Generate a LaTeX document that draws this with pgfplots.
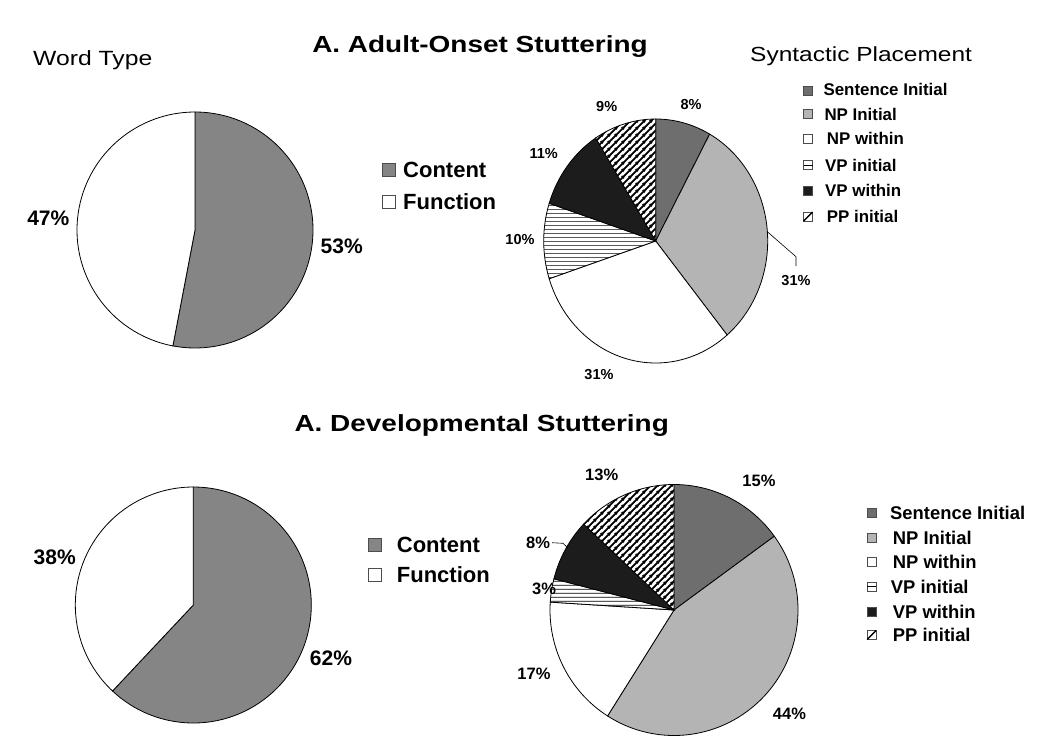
\documentclass[border=0pt]{standalone}
\usepackage{fontspec}
\setmainfont{Liberation Sans}
\newfontfamily\widefont{Liberation Sans}[FakeStretch=1.2]
\usepackage{pgfplots}
\pgfplotsset{compat=1.18}
\usetikzlibrary{patterns.meta}

\definecolor{contentgray}{HTML}{858585}
\definecolor{sentgray}{HTML}{6E6E6E}
\definecolor{npgray}{HTML}{B4B4B4}
\definecolor{vpblack}{HTML}{1C1C1C}

\tikzdeclarepattern{name=diagstripe, type=uncolored,
  bounding box={(0pt,0pt) and (7pt,7pt)}, tile size={(7pt,7pt)},
  code={\draw[line width=2pt] (-1pt,-1pt) -- (8pt,8pt) (-1pt,6pt) -- (1pt,8pt) (6pt,-1pt) -- (8pt,1pt);}}
\tikzdeclarepattern{name=hstripe, type=uncolored,
  bounding box={(0pt,0pt) and (4pt,4pt)}, tile size={(4pt,4pt)},
  code={\draw[line width=0.9pt] (-1pt,2pt) -- (5pt,2pt);}}

% #1 cx, #2 cy, #3 rx, #4 ry, #5 start %, #6 end %, #7 style
\newcommand{\pieslice}[7]{%
  \path[#7] (axis cs:#1,#2) -- ++({#3*cos(90-3.6*#5)*1pt},{#4*sin(90-3.6*#5)*1pt})
    arc[start angle={90-3.6*#5}, end angle={90-3.6*#6}, x radius=#3pt, y radius=#4pt] -- cycle;}

\tikzset{
  slice/.style={draw=black, line width=0.8pt},
  % text whose cap-height middle sits at the given point
  T/.style={inner sep=0pt, anchor=base, font=\fontsize{#1}{#1}\selectfont, yshift={-0.358*#1*1pt}},
  TL/.style={inner sep=0pt, anchor=base west, font=\fontsize{#1}{#1}\selectfont, yshift={-0.358*#1*1pt}},
  B/.style={T=#1, font=\bfseries\fontsize{#1}{#1}\selectfont},
  BL/.style={TL=#1, font=\bfseries\fontsize{#1}{#1}\selectfont},
  WB/.style={T=#1, font=\widefont\bfseries\fontsize{#1}{#1}\selectfont},
  WL/.style={TL=#1, font=\widefont\fontsize{#1}{#1}\selectfont},
  legbox/.style={draw=black!70, line width=0.8pt},
}

\begin{document}
\begin{tikzpicture}
\useasboundingbox (0,0) rectangle (1050pt,-751pt);
\begin{axis}[at={(0,0)}, anchor=origin, x=1pt, y=1pt,
  xmin=0, xmax=1050, ymin=0, ymax=751, y dir=reverse,
  hide axis, clip=false]
\addplot[draw=none] coordinates {(0,0) (1050,751)};

% ---------- Titles ----------
\node[WB=23.3] at (axis cs:480,44.2) {A. Adult-Onset Stuttering};
\node[WB=23.3] at (axis cs:481.7,423.3) {A. Developmental Stuttering};
\node[WL=20.6] at (axis cs:33,57.8) {Word Type};
\node[WL=20.4] at (axis cs:750,53.8) {Syntactic Placement};

% ---------- Top-left pie: word type (adult) ----------
\pieslice{195}{230}{118}{118}{0}{53}{slice, fill=contentgray}
\pieslice{195}{230}{118}{118}{53}{100}{slice, fill=white}
\node[B=21] at (axis cs:48.3,217.5) {47\%};
\node[B=21] at (axis cs:341.7,245.7) {53\%};

% legend
\draw[legbox, fill=contentgray] (axis cs:382,163) rectangle (axis cs:395,176);
\draw[legbox, fill=white] (axis cs:382,195) rectangle (axis cs:395,208);
\node[BL=22] at (axis cs:403,170) {Content};
\node[BL=22] at (axis cs:403,201.5) {Function};

% ---------- Top-right pie: syntactic placement (adult) ----------
\pieslice{655.7}{241}{112}{122}{0}{8}{slice, fill=sentgray}
\pieslice{655.7}{241}{112}{122}{8}{39}{slice, fill=npgray}
\pieslice{655.7}{241}{112}{122}{39}{70}{slice, fill=white}
\pieslice{655.7}{241}{112}{122}{70}{80}{slice, preaction={fill=white}, pattern={hstripe}, pattern color=black}
\pieslice{655.7}{241}{112}{122}{80}{91}{slice, fill=vpblack}
\pieslice{655.7}{241}{112}{122}{91}{100}{slice, preaction={fill=white}, pattern={diagstripe}, pattern color=black}
\node[B=14.5] at (axis cs:691,104.5) {8\%};
\node[B=14.5] at (axis cs:606.7,106.5) {9\%};
\node[B=14.5] at (axis cs:543.7,153) {11\%};
\node[B=14.5] at (axis cs:520,239) {10\%};
\node[B=14.5] at (axis cs:796,280) {31\%};
\node[B=14.5] at (axis cs:599,374.5) {31\%};
\draw[line width=0.6pt] (axis cs:767.3,231.7) -- (axis cs:796,256.7) -- (axis cs:796,266);

% legend
\draw[legbox, fill=sentgray] (axis cs:803.5,86) rectangle (axis cs:812.5,95);
\draw[legbox, fill=npgray] (axis cs:803.5,109.5) rectangle (axis cs:812.5,118.5);
\draw[legbox, fill=white] (axis cs:803.5,134) rectangle (axis cs:812.5,143);
\draw[legbox, fill=white] (axis cs:803.5,160.5) rectangle (axis cs:812.5,169.5);
\draw[line width=0.8pt] (axis cs:803.5,165) -- (axis cs:812.5,165);
\draw[legbox, fill=vpblack] (axis cs:803.5,186) rectangle (axis cs:812.5,195);
\draw[legbox, fill=white] (axis cs:803.5,212) rectangle (axis cs:812.5,221);
\draw[line width=1.4pt] (axis cs:803.5,221) -- (axis cs:812.5,212);
\node[BL=16.9] at (axis cs:823.3,89.3) {Sentence Initial};
\node[BL=16.9] at (axis cs:824.3,114) {NP Initial};
\node[BL=16.9] at (axis cs:826.7,138.3) {NP within};
\node[BL=16.9] at (axis cs:825,165) {VP initial};
\node[BL=16.9] at (axis cs:825,190.7) {VP within};
\node[BL=16.9] at (axis cs:826.7,216.7) {PP initial};

% ---------- Bottom-left pie: word type (developmental) ----------
\pieslice{193.3}{605}{118}{118}{0}{62}{slice, fill=contentgray}
\pieslice{193.3}{605}{118}{118}{62}{100}{slice, fill=white}
\node[B=21] at (axis cs:54.7,557) {38\%};
\node[B=21] at (axis cs:331,658) {62\%};

% legend
\draw[legbox, fill=contentgray] (axis cs:368,538) rectangle (axis cs:381,551);
\draw[legbox, fill=white] (axis cs:368,568.5) rectangle (axis cs:381,581.5);
\node[BL=22] at (axis cs:396.7,544.5) {Content};
\node[BL=22] at (axis cs:396.7,575) {Function};

% ---------- Bottom-right pie: syntactic placement (developmental) ----------
\pieslice{674}{610}{124}{125.5}{0}{15}{slice, fill=sentgray}
\pieslice{674}{610}{124}{125.5}{15}{59}{slice, fill=npgray}
\pieslice{674}{610}{124}{125.5}{59}{76}{slice, fill=white}
\pieslice{674}{610}{124}{125.5}{76}{79}{slice, preaction={fill=white}, pattern={hstripe}, pattern color=black}
\pieslice{674}{610}{124}{125.5}{79}{87}{slice, fill=vpblack}
\pieslice{674}{610}{124}{125.5}{87}{100}{slice, preaction={fill=white}, pattern={diagstripe}, pattern color=black}
\node[B=16.5] at (axis cs:759,481) {15\%};
\node[B=16.5] at (axis cs:601.7,475) {13\%};
\node[B=16.5] at (axis cs:538,542.5) {8\%};
\node[B=16.5] at (axis cs:544,589) {3\%};
\node[B=16.5] at (axis cs:534,674) {17\%};
\node[B=16.5] at (axis cs:789.5,714) {44\%};
\draw[line width=0.6pt] (axis cs:552,542.7) -- (axis cs:563,543.3) -- (axis cs:567.5,547.5);

% legend
\draw[legbox, fill=sentgray] (axis cs:867.2,508.8) rectangle (axis cs:876.2,517.8);
\draw[legbox, fill=npgray] (axis cs:867.2,533.8) rectangle (axis cs:876.2,542.8);
\draw[legbox, fill=white] (axis cs:867.2,557.2) rectangle (axis cs:876.2,566.2);
\draw[legbox, fill=white] (axis cs:867.2,582.2) rectangle (axis cs:876.2,591.2);
\draw[line width=0.8pt] (axis cs:867.2,586.7) -- (axis cs:876.2,586.7);
\draw[legbox, fill=vpblack] (axis cs:867.2,607.2) rectangle (axis cs:876.2,616.2);
\draw[legbox, fill=white] (axis cs:867.2,630.5) rectangle (axis cs:876.2,639.5);
\draw[line width=1.4pt] (axis cs:867.2,639.5) -- (axis cs:876.2,630.5);
\node[BL=18.4] at (axis cs:890,513.3) {Sentence Initial};
\node[BL=18.4] at (axis cs:892.7,538.3) {NP Initial};
\node[BL=18.4] at (axis cs:892.7,561.7) {NP within};
\node[BL=18.4] at (axis cs:890.7,586.7) {VP initial};
\node[BL=18.4] at (axis cs:892.7,611.7) {VP within};
\node[BL=18.4] at (axis cs:892.7,635) {PP initial};
\end{axis}
\end{tikzpicture}
\end{document}
